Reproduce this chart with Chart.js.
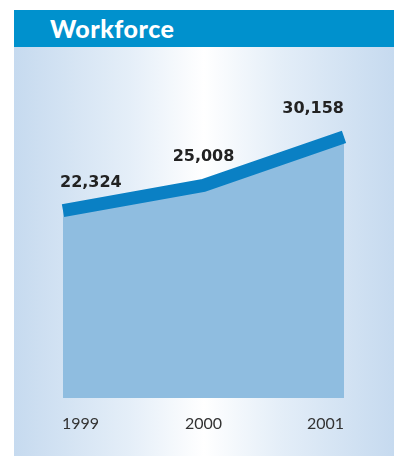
<!DOCTYPE html>
<html>
<head>
<meta charset="utf-8">
<script src="https://cdn.jsdelivr.net/npm/chart.js@4.4.1/dist/chart.umd.min.js"></script>
<style>
  html, body { margin: 0; padding: 0; background: #fff; }
  #panel {
    position: absolute; left: 14px; top: 10px; width: 380px; height: 446px;
  }
  #head {
    height: 37px; background: #0091cd; color: #fff;
    font: 900 25px Lato, "DejaVu Sans", sans-serif; letter-spacing: 0.5px;
    line-height: 37px; padding-left: 36px; box-sizing: border-box;
  }
  #body {
    position: relative; height: 409px;
    background: linear-gradient(to right, #c6daef 0%, #e4eef8 30%, #ffffff 50%, #e4eef8 70%, #c6daef 100%);
  }
</style>
</head>
<body>
<div id="panel">
  <div id="head">Workforce</div>
  <div id="body"><canvas id="workforceChart" width="380" height="409"></canvas></div>
</div>
<script>
// データ
var years = ['1999', '2000', '2001'];
var workforce = [22324, 25008, 30158];
var yMin = 2450;
var yMax = 33000;

// ラベルを描くプラグイン（端の年は端揃え）
var labelPlugin = {
  id: 'labels',
  afterDatasetsDraw: function (chart) {
    var ctx = chart.ctx;
    var meta = chart.getDatasetMeta(0);
    var xs = chart.scales.x;
    var last = years.length - 1;
    ctx.save();
    meta.data.forEach(function (pt, i) {
      var align = i === 0 ? 'left' : (i === last ? 'right' : 'center');
      var x = xs.getPixelForValue(i);
      ctx.textAlign = align;
      ctx.textBaseline = 'alphabetic';
      // 値
      ctx.fillStyle = '#222';
      ctx.font = 'bold 16px "DejaVu Sans", sans-serif';
      ctx.fillText(workforce[i].toLocaleString('en-US'), x - (i === 0 ? 3 : 0), pt.y - 24);
      // 年
      ctx.fillStyle = '#333';
      ctx.font = '16px Lato, "DejaVu Sans", sans-serif';
      ctx.fillText(years[i], x - (i === 0 ? 1 : 0), chart.chartArea.bottom + 31);
    });
    ctx.restore();
  }
};

var ctx = document.getElementById('workforceChart');
var chart = new Chart(ctx, {
  type: 'line',
  data: {
    labels: years,
    datasets: [{
      data: workforce,
      borderColor: '#0a80c4',
      borderWidth: 13,
      borderCapStyle: 'butt',
      borderJoinStyle: 'miter',
      backgroundColor: '#8fbde0',
      fill: 'origin',
      pointRadius: 0,
      tension: 0
    }]
  },
  options: {
    responsive: false,
    animation: false,
    layout: { padding: { left: 49, right: 50, top: 63, bottom: 58 } },
    plugins: { legend: { display: false }, tooltip: { enabled: false } },
    scales: {
      x: { display: false, offset: false },
      y: { display: false, min: yMin, max: yMax }
    }
  },
  plugins: [labelPlugin]
});
</script>
</body>
</html>
